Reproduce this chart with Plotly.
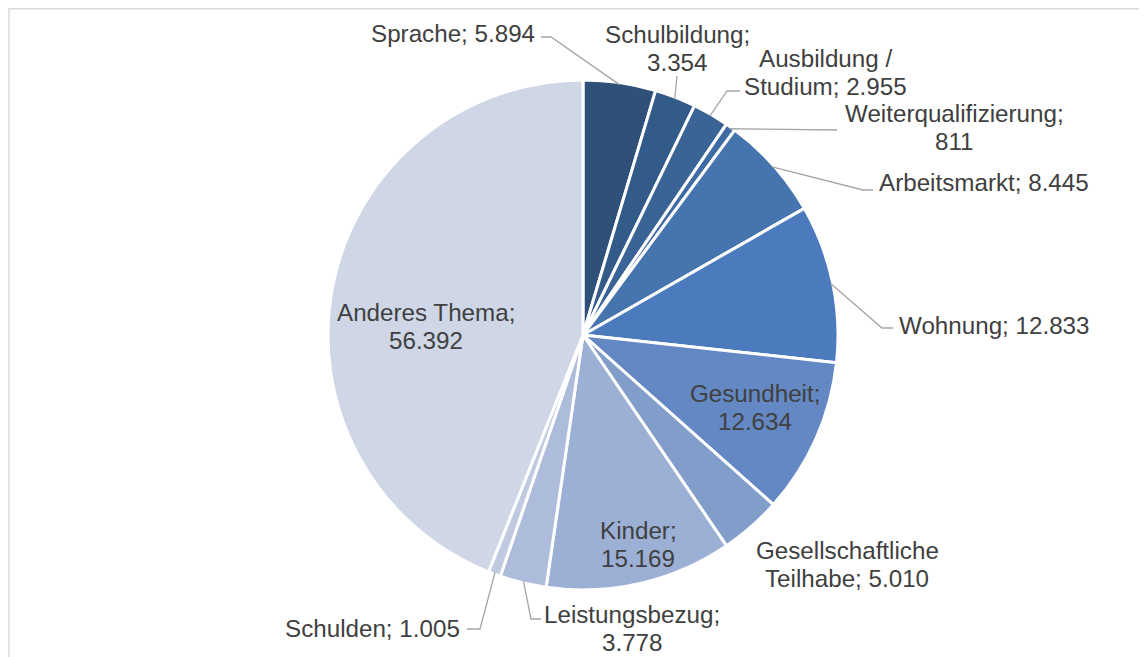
import math
import plotly.graph_objects as go

# ---------------- data ----------------
categories = ["Sprache", "Schulbildung", "Ausbildung / Studium", "Weiterqualifizierung",
              "Arbeitsmarkt", "Wohnung", "Gesundheit", "Gesellschaftliche Teilhabe",
              "Kinder", "Leistungsbezug", "Schulden", "Anderes Thema"]
values = [5894, 3354, 2955, 811, 8445, 12833, 12634, 5010, 15169, 3778, 1005, 56392]
value_labels = ["5.894", "3.354", "2.955", "811", "8.445", "12.833", "12.634", "5.010",
                "15.169", "3.778", "1.005", "56.392"]
label_lines = [
    ["Sprache; 5.894"],
    ["Schulbildung;", "3.354"],
    ["Ausbildung /", "Studium; 2.955"],
    ["Weiterqualifizierung;", "811"],
    ["Arbeitsmarkt; 8.445"],
    ["Wohnung; 12.833"],
    ["Gesundheit;", "12.634"],
    ["Gesellschaftliche", "Teilhabe; 5.010"],
    ["Kinder;", "15.169"],
    ["Leistungsbezug;", "3.778"],
    ["Schulden; 1.005"],
    ["Anderes Thema;", "56.392"],
]
colors = ["#2F5179", "#335B89", "#3A6496", "#3E6BA3", "#4674AE", "#4B7BBC",
          "#6388C3", "#819ECB", "#9BB0D4", "#AEBCDB", "#BFCAE1", "#CFD7E6"]

# ---------------- layout (page pixels) ----------------
W, H = 1147, 657
OFF = 8  # page body margin offset
CX, CY, R = 583, 335, 255
FONT = "Liberation Sans, Arial, sans-serif"
FS = 24.2
TXT = "#404040"
LINE_H = 28

# label block: (anchor x, first line center y, xanchor)
label_pos = [
    (537, 33, "right"),
    (677, 35, "center"),
    (825, 58, "center"),
    (954, 113, "center"),
    (877, 183, "left"),
    (897, 325, "left"),
    (755, 393, "center"),
    (847, 550, "center"),
    (638, 530, "center"),
    (632, 614, "center"),
    (462, 628, "right"),
    (426, 312, "center"),
]
# leader line: list of (elbow, end) points in px; None = no leader
leaders = [
    [(551, 37), (541, 37)],
    [(677, 76)],
    [(727, 91), (740, 91)],
    [(837, 130)],
    [(863, 190), (873, 190)],
    [(882, 328), (893, 328)],
    None,
    None,
    None,
    [(531, 619), (541, 619)],
    [(480, 629), (467, 629)],
    None,
]


def px(x):
    return (x - OFF) / W


def py(y):
    return 1 - (y - OFF) / H


fig = go.Figure(go.Pie(
    labels=categories,
    values=values,
    sort=False,
    direction="clockwise",
    rotation=0,
    textinfo="none",
    hoverinfo="label+value",
    marker=dict(colors=colors, line=dict(color="white", width=3)),
    domain=dict(x=[px(CX - R), px(CX + R)], y=[py(CY + R), py(CY - R)]),
    showlegend=False,
))

total = sum(values)
annotations = []
shapes = []
cum = 0
for i, v in enumerate(values):
    mid = (cum + v / 2) / total * 2 * math.pi
    cum += v
    ex = CX + (R - 2) * math.sin(mid)
    ey = CY - (R - 2) * math.cos(mid)
    ax, ay, anchor = label_pos[i]
    for k, line in enumerate(label_lines[i]):
        annotations.append(dict(
            x=px(ax), y=py(ay + k * LINE_H), xref="paper", yref="paper",
            text=line, showarrow=False, xanchor=anchor, yanchor="middle",
            font=dict(family=FONT, size=FS, color=TXT),
        ))
    if leaders[i]:
        pts = [(ex, ey)] + leaders[i]
        path = "M " + " L ".join(f"{px(x):.5f},{py(y):.5f}" for x, y in pts)
        shapes.append(dict(type="path", path=path, xref="paper", yref="paper",
                           line=dict(color="#A6A6A6", width=1.3)))

# outer chart frame
shapes.append(dict(type="rect", xref="paper", yref="paper",
                   x0=px(9), x1=px(W + 20), y0=py(H + 20), y1=py(8.8),
                   line=dict(color="#D9D9D9", width=1.4)))

fig.update_layout(
    width=W, height=H,
    margin=dict(l=0, r=0, t=0, b=0),
    paper_bgcolor="white", plot_bgcolor="white",
    annotations=annotations, shapes=shapes,
)

fig.write_html("out.html")
